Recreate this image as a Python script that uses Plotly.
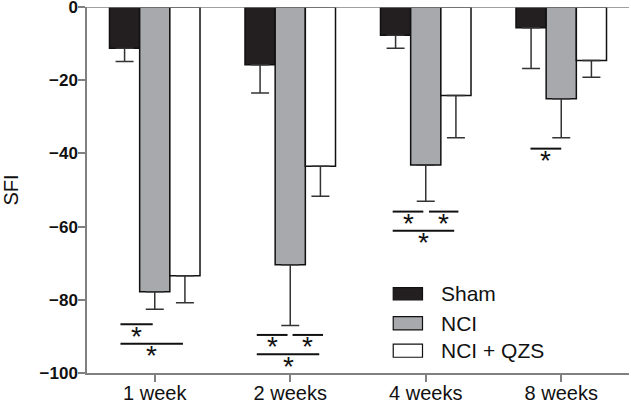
import plotly.graph_objects as go

categories = ["1 week", "2 weeks", "4 weeks", "8 weeks"]
sham = [-11.3, -15.8, -7.7, -5.7]
sham_err = [3.6, 7.7, 3.6, 11.1]
nci = [-77.8, -70.4, -43.2, -25.1]
nci_err = [4.8, 16.6, 9.9, 10.6]
qzs = [-73.4, -43.5, -24.2, -14.6]
qzs_err = [7.4, 8.2, 11.5, 4.6]
series_names = ["Sham", "NCI", "NCI + QZS"]
y_ticks = [-100, -80, -60, -40, -20, 0]
y_tick_labels = ["<b>\u2212100</b>", "<b>\u221280</b>", "<b>\u221260</b>",
                 "<b>\u221240</b>", "<b>\u221220</b>", "<b>0</b>"]

# significance brackets: (category index, start offset, end offset, level)
sig_brackets = [
    (0, -0.253, -0.015, -86.7),
    (0, -0.253, 0.208, -92.0),
    (1, -0.247, -0.020, -89.6),
    (1, 0.017, 0.242, -89.6),
    (1, -0.247, 0.214, -94.9),
    (2, -0.244, -0.018, -55.9),
    (2, 0.024, 0.241, -55.9),
    (2, -0.244, 0.210, -61.1),
    (3, -0.227, 0.0, -38.7),
]

colors = ["#231f20", "#a7a9ac", "#ffffff"]
FONT = "Liberation Sans, Arial, sans-serif"
AXIS_GRAY = "#808080"

xs = list(range(len(categories)))
fig = go.Figure()
for name, vals, errs, col in zip(series_names, [sham, nci, qzs],
                                 [sham_err, nci_err, qzs_err], colors):
    fig.add_trace(go.Bar(
        x=xs, y=vals, name=name,
        marker=dict(color=col, line=dict(color="#111111", width=1.5)),
        error_y=dict(type="data", symmetric=False,
                     array=[0] * len(errs), arrayminus=errs,
                     color="#333333", thickness=1.5, width=9),
        showlegend=False,
    ))

shapes = [dict(type="line", xref="paper", yref="y", x0=0, x1=1, y0=0, y1=0,
               line=dict(color=AXIS_GRAY, width=1.5), layer="above")]
annotations = []
for cat, a, b, lvl in sig_brackets:
    shapes.append(dict(type="line", xref="x", yref="y",
                       x0=cat + a, x1=cat + b, y0=lvl, y1=lvl,
                       line=dict(color="#111111", width=2)))
    annotations.append(dict(x=cat + (a + b) / 2, y=lvl, xref="x", yref="y",
                            text="*", showarrow=False, yanchor="middle",
                            xanchor="center", yshift=-12,
                            font=dict(family=FONT, size=28, color="#111111")))

# manual legend
leg_boxes = [(0.200, 0.233), (0.118, 0.154), (0.043, 0.079)]
for name, col, (y0, y1) in zip(series_names, colors, leg_boxes):
    shapes.append(dict(type="rect", xref="paper", yref="paper",
                       x0=0.565, x1=0.619, y0=y0, y1=y1,
                       fillcolor=col, line=dict(color="#111111", width=1.2)))
    annotations.append(dict(x=0.649, y=(y0 + y1) / 2, xref="paper", yref="paper",
                            text=name, showarrow=False, xanchor="left",
                            yanchor="middle",
                            font=dict(family=FONT, size=21, color="#111111")))

fig.update_layout(
    width=631, height=401,
    margin=dict(l=87, r=2, t=7, b=28, autoexpand=False),
    paper_bgcolor="white", plot_bgcolor="white",
    barmode="group", bargap=0.332, bargroupgap=0,
    shapes=shapes, annotations=annotations,
    font=dict(family=FONT, color="#111111"),
    xaxis=dict(range=[-0.5, 3.5], tickvals=xs, ticktext=categories,
               showline=True, linecolor=AXIS_GRAY, linewidth=1.5,
               ticks="outside", ticklen=7, tickwidth=1.5, tickcolor=AXIS_GRAY,
               showgrid=False, zeroline=False, ticklabeloverflow="allow",
               ticklabelstandoff=-6,
               tickfont=dict(family=FONT, size=20, color="#111111")),
    yaxis=dict(range=[-100, 0], tickvals=y_ticks, ticktext=y_tick_labels,
               showline=True, linecolor=AXIS_GRAY, linewidth=1.5,
               ticks="outside", ticklen=7, tickwidth=1.5, tickcolor=AXIS_GRAY,
               showgrid=False, zeroline=False, ticklabeloverflow="allow",
               ticklabelstandoff=-3,
               tickfont=dict(family=FONT, size=17, color="#111111"),
               title=dict(text="SFI", standoff=20,
                          font=dict(family=FONT, size=20, color="#111111"))),
)

fig.write_html("out.html", config={"displayModeBar": False},
               post_script="document.body.style.margin='0';")
